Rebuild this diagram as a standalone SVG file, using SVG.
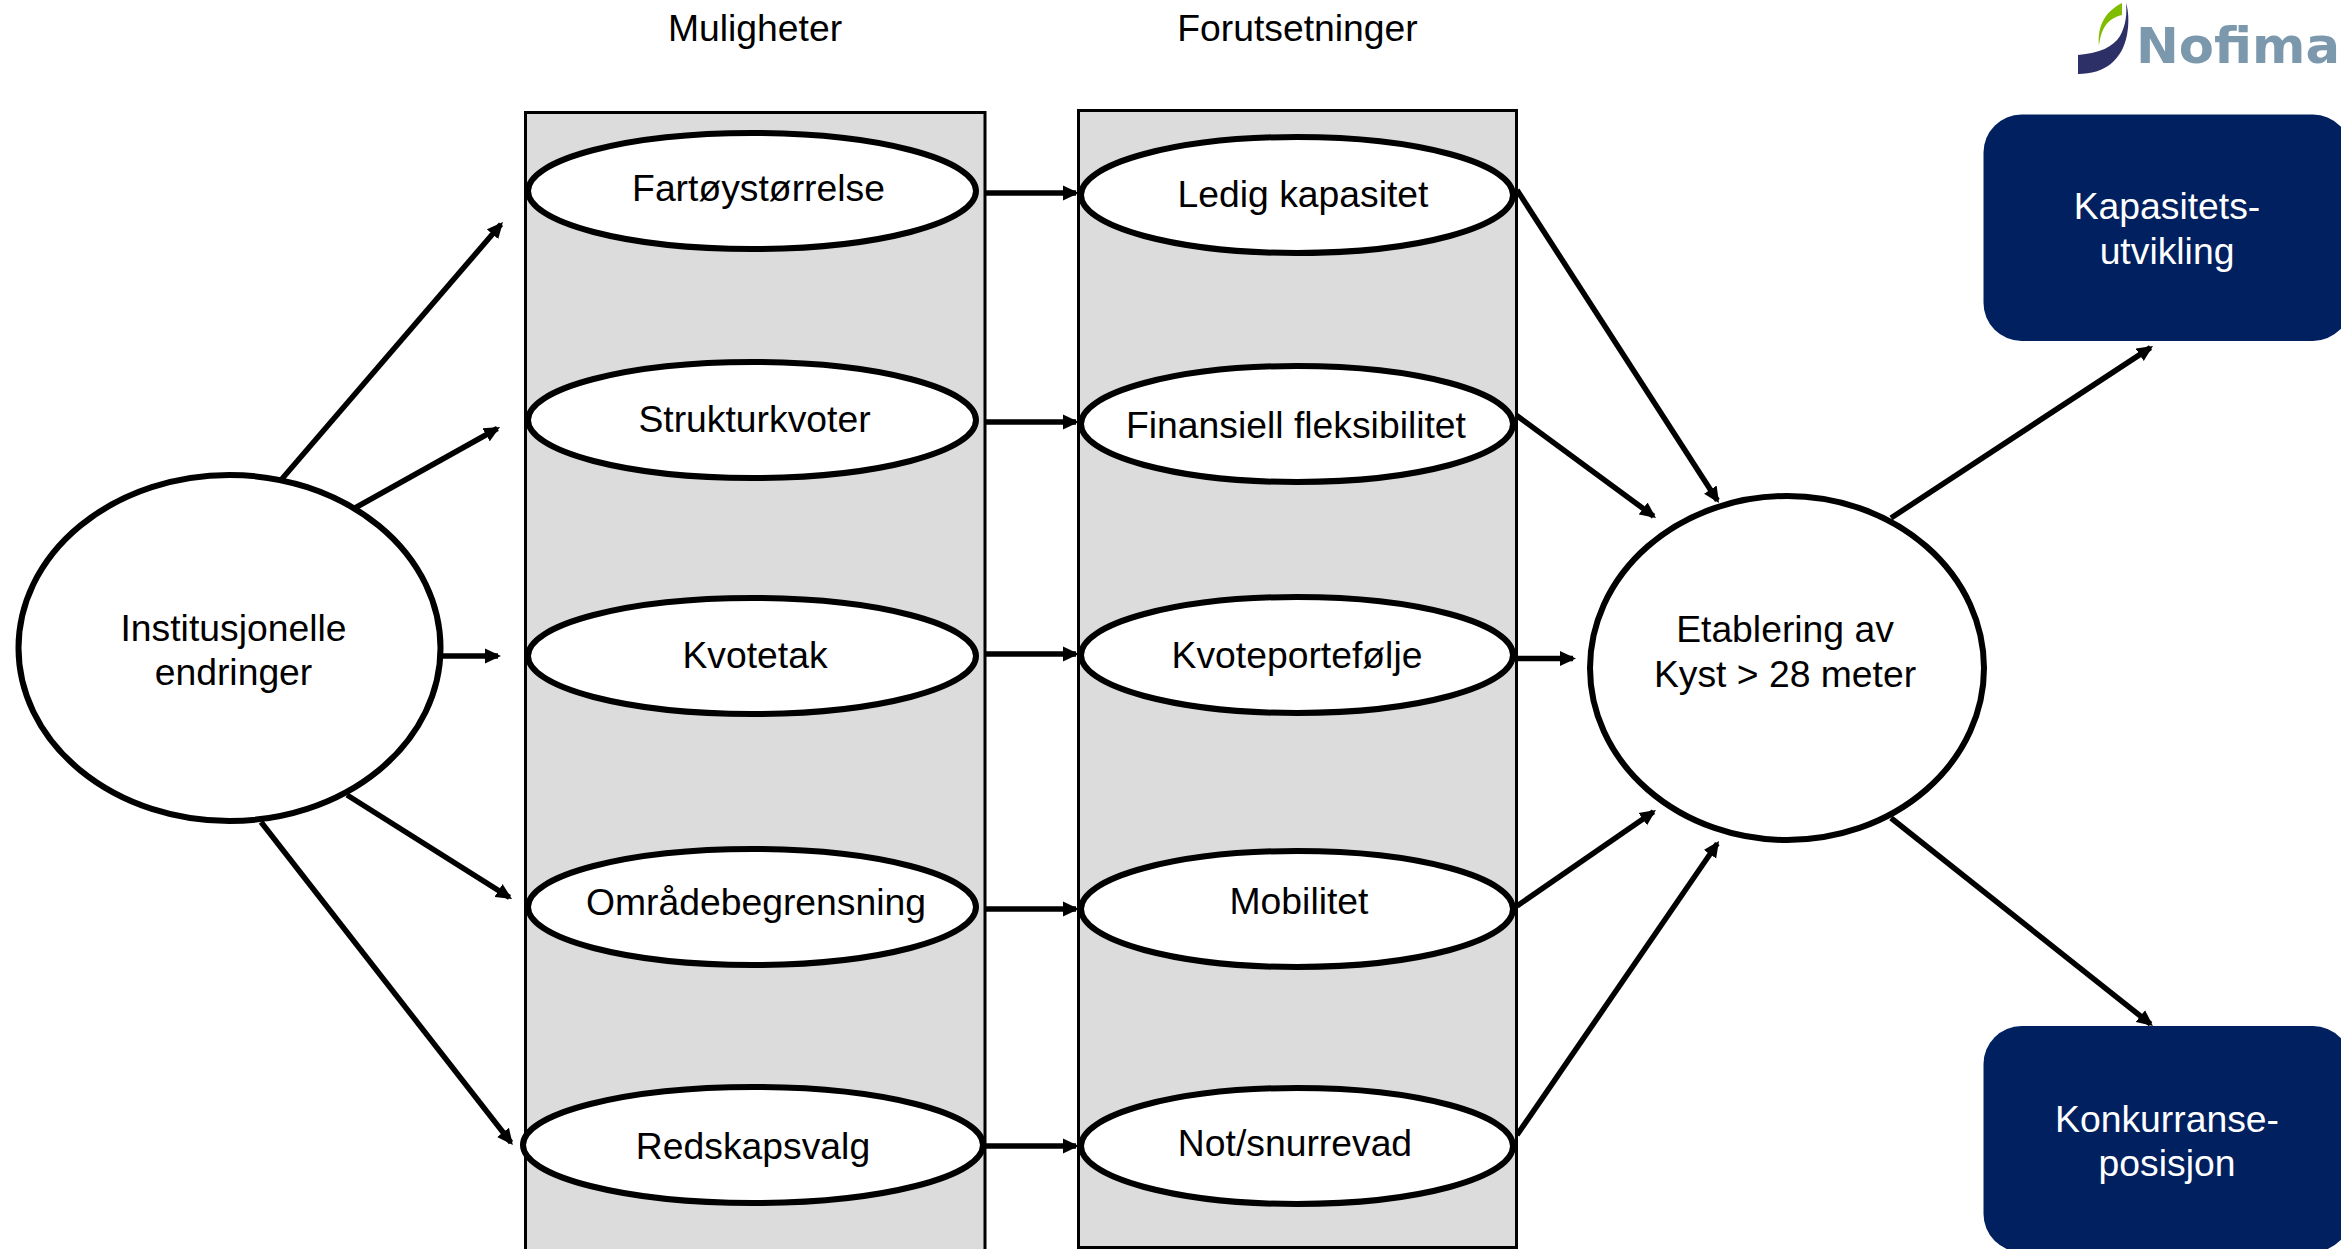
<svg xmlns="http://www.w3.org/2000/svg" width="2341" height="1249" viewBox="0 0 2341 1249">
<style>
text{font-family:"Liberation Sans",Arial,sans-serif;font-size:37.3px;text-anchor:middle;fill:#000}
.panel{fill:#dcdcdc;stroke:#000;stroke-width:3}
.e{fill:#fff;stroke:#000;stroke-width:6}
.box{fill:#002060}
text.w{fill:#fff}
.c line{stroke:#000;stroke-width:5.500;marker-end:url(#a)}
</style>
<defs><marker id="a" markerUnits="userSpaceOnUse" markerWidth="18" markerHeight="16" refX="13" refY="8" orient="auto"><path d="M0 0.500L16 8L0 15.500z" fill="#000"/></marker></defs>
<rect width="2341" height="1249" fill="#fff"/>
<g id="panel-muligheter"><rect class="panel" x="525.500" y="112.500" width="459.500" height="1150"/></g>
<g id="panel-forutsetninger"><rect class="panel" x="1078.500" y="110.500" width="438" height="1137"/></g>
<g id="title-muligheter"><text x="755" y="41">Muligheter</text></g>
<g id="title-forutsetninger"><text x="1297.500" y="41">Forutsetninger</text></g>
<g id="logo">
<path d="M2078 55C2100 53 2113 47 2120 36C2126 25 2127 14 2126 3C2129 12 2129 25 2127 35C2122 60 2105 74 2078 74z" fill="#2d3066"/>
<path d="M2122 3C2106 11 2097 25 2099 46C2101 30 2106 19 2122 15z" fill="#80bc00"/>
<text x="2238" y="63" textLength="204" lengthAdjust="spacingAndGlyphs" style="font-family:'DejaVu Sans',sans-serif;font-weight:bold;font-size:49px;fill:#7b98ad">Nofima</text>
</g>
<g id="connectors" class="c">
<line x1="281" y1="480" x2="501" y2="224.300"/>
<line x1="355" y1="508" x2="497.400" y2="428.500"/>
<line x1="441" y1="656" x2="498" y2="656"/>
<line x1="347" y1="795" x2="509.500" y2="897.400"/>
<line x1="261" y1="822" x2="511" y2="1142.600"/>
<line x1="986" y1="193" x2="1076" y2="193"/>
<line x1="986" y1="422" x2="1076" y2="422"/>
<line x1="986" y1="654" x2="1076" y2="654"/>
<line x1="986" y1="909" x2="1076" y2="909"/>
<line x1="986" y1="1146" x2="1076" y2="1146"/>
<line x1="1517" y1="190" x2="1717.400" y2="500.500"/>
<line x1="1516" y1="415" x2="1653.600" y2="516.200"/>
<line x1="1517" y1="658.500" x2="1573" y2="658.500"/>
<line x1="1517" y1="906" x2="1653.500" y2="811.700"/>
<line x1="1517" y1="1135" x2="1717.300" y2="843.500"/>
<line x1="1891" y1="518" x2="2150.500" y2="347.600"/>
<line x1="1891" y1="818" x2="2150.600" y2="1024.100"/>
</g>
<g id="institusjonelle"><ellipse class="e" cx="229.500" cy="648" rx="211" ry="173"/><text x="233.500" y="641">Institusjonelle</text><text x="233.500" y="685">endringer</text></g>
<g id="fartoystorrelse"><ellipse class="e" cx="752" cy="191" rx="224" ry="58"/><text x="758.500" y="201">Fartøystørrelse</text></g>
<g id="strukturkvoter"><ellipse class="e" cx="752" cy="420" rx="224" ry="58"/><text x="754.500" y="432">Strukturkvoter</text></g>
<g id="kvotetak"><ellipse class="e" cx="752" cy="656" rx="224" ry="58"/><text x="755" y="668">Kvotetak</text></g>
<g id="omradebegrensning"><ellipse class="e" cx="752" cy="907" rx="224" ry="58"/><text x="756" y="915">Områdebegrensning</text></g>
<g id="redskapsvalg"><ellipse class="e" cx="753" cy="1145" rx="230" ry="58"/><text x="753" y="1159">Redskapsvalg</text></g>
<g id="ledig-kapasitet"><ellipse class="e" cx="1297" cy="195" rx="216" ry="58"/><text x="1303" y="207">Ledig kapasitet</text></g>
<g id="finansiell"><ellipse class="e" cx="1297" cy="424" rx="216" ry="58"/><text x="1296" y="438">Finansiell fleksibilitet</text></g>
<g id="kvoteportefolje"><ellipse class="e" cx="1297" cy="655" rx="216" ry="58"/><text x="1297" y="668">Kvoteportefølje</text></g>
<g id="mobilitet"><ellipse class="e" cx="1297" cy="909" rx="216" ry="58"/><text x="1299" y="914">Mobilitet</text></g>
<g id="not-snurrevad"><ellipse class="e" cx="1297" cy="1146" rx="216" ry="58"/><text x="1295" y="1156">Not/snurrevad</text></g>
<g id="etablering"><ellipse class="e" cx="1787" cy="668" rx="197" ry="172"/><text x="1785" y="642">Etablering av</text><text x="1785" y="687">Kyst &gt; 28 meter</text></g>
<g id="kapasitetsutvikling"><rect class="box" x="1983.500" y="114.500" width="367.500" height="226.500" rx="38"/><text class="w" x="2167" y="219">Kapasitets-</text><text class="w" x="2167" y="264">utvikling</text></g>
<g id="konkurranseposisjon"><rect class="box" x="1983.500" y="1026" width="367.500" height="226" rx="38"/><text class="w" x="2167" y="1132">Konkurranse-</text><text class="w" x="2167" y="1176">posisjon</text></g>
</svg>
